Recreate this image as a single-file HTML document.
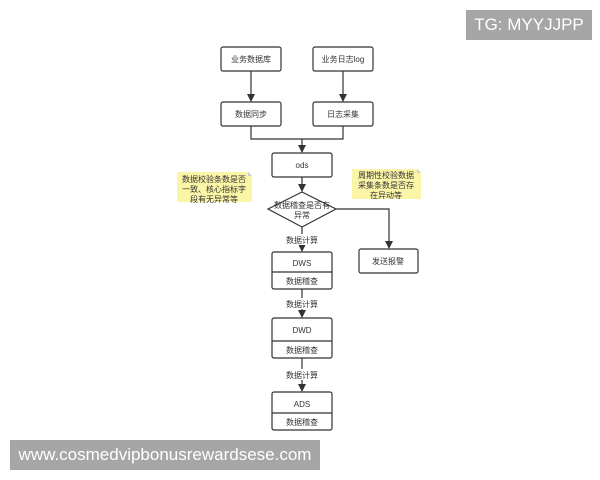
<!DOCTYPE html>
<html><head><meta charset="utf-8"><style>
html,body{margin:0;padding:0;background:#fff;}
body{width:600px;height:480px;position:relative;overflow:hidden;font-family:"Liberation Sans","Noto Sans CJK SC",sans-serif;}
.wm{position:absolute;background:#a6a6a6;color:#fff;}
</style></head><body>
<svg width="600" height="480" style="position:absolute;left:0;top:0" font-family="Liberation Sans, Noto Sans CJK SC, sans-serif">
<defs><marker id="a" markerWidth="8" markerHeight="8" refX="7" refY="4" orient="auto" markerUnits="userSpaceOnUse"><path d="M0,0 L8,4 L0,8 Z" fill="#333"/></marker></defs>
<g fill="#fff" stroke="#333" stroke-width="1.2">
<rect x="221" y="47" width="60" height="24" rx="2"/>
<rect x="313" y="47" width="60" height="24" rx="2"/>
<rect x="221" y="102" width="60" height="24" rx="2"/>
<rect x="313" y="102" width="60" height="24" rx="2"/>
<rect x="272" y="153" width="60" height="24" rx="2"/>
<polygon points="302,192 336,209 302,227 268,209"/>
<rect x="359" y="249" width="59" height="24" rx="2"/>
<rect x="272" y="252" width="60" height="37" rx="2"/><line x1="272" y1="272" x2="332" y2="272"/>
<rect x="272" y="318" width="60" height="40" rx="2"/><line x1="272" y1="341" x2="332" y2="341"/>
<rect x="272" y="392" width="60" height="38" rx="2"/><line x1="272" y1="413" x2="332" y2="413"/>
</g>
<g fill="none" stroke="#333" stroke-width="1.2">
<line x1="251" y1="71" x2="251" y2="101" marker-end="url(#a)"/>
<line x1="343" y1="71" x2="343" y2="101" marker-end="url(#a)"/>
<polyline points="251,126 251,139 343,139 343,126"/>
<line x1="302" y1="139" x2="302" y2="152" marker-end="url(#a)"/>
<line x1="302" y1="177" x2="302" y2="191" marker-end="url(#a)"/>
<polyline points="336,209 389,209 389,248" marker-end="url(#a)"/>
<line x1="302" y1="227" x2="302" y2="251" marker-end="url(#a)"/>
<line x1="302" y1="289" x2="302" y2="317" marker-end="url(#a)"/>
<line x1="302" y1="358" x2="302" y2="391" marker-end="url(#a)"/>
</g>
<polygon points="177,172 248,172 252,176 252,202 177,202" fill="#fbf5a8"/>
<polygon points="248,172 252,176 248,176" fill="#ccc"/>
<polygon points="352,169 417,169 421,173 421,199 352,199" fill="#fbf5a8"/>
<polygon points="417,169 421,173 417,173" fill="#ccc"/>
<g font-size="8" fill="#333" text-anchor="middle">
<text x="251" y="62">业务数据库</text>
<text x="343" y="62">业务日志log</text>
<text x="251" y="117">数据同步</text>
<text x="343" y="117">日志采集</text>
<text x="302" y="168">ods</text>
<text x="302" y="208">数据稽查是否有</text>
<text x="302" y="218">异常</text>
<text x="388" y="264">发送报警</text>
<text x="214" y="182">数据校验条数是否</text>
<text x="214" y="192">一致、核心指标字</text>
<text x="214" y="202">段有无异常等</text>
<text x="386" y="178">周期性校验数据</text>
<text x="386" y="188">采集条数是否存</text>
<text x="386" y="198">在异动等</text>
<rect x="282" y="234" width="40" height="11" fill="#fff"/>
<text x="302" y="243">数据计算</text>
<rect x="282" y="298" width="40" height="11" fill="#fff"/>
<text x="302" y="307">数据计算</text>
<rect x="282" y="369" width="40" height="11" fill="#fff"/>
<text x="302" y="378">数据计算</text>
<text x="302" y="266">DWS</text>
<text x="302" y="284">数据稽查</text>
<text x="302" y="333">DWD</text>
<text x="302" y="353">数据稽查</text>
<text x="302" y="407">ADS</text>
<text x="302" y="425">数据稽查</text>
</g>
</svg>
<div class="wm" style="left:466px;top:10px;width:126px;height:30px;line-height:30px;font-size:17px;text-align:center;">TG: MYYJJPP</div>
<div class="wm" style="left:10px;top:440px;width:310px;height:30px;line-height:30px;font-size:17px;text-align:center;">www.cosmedvipbonusrewardsese.com</div>
</body></html>
